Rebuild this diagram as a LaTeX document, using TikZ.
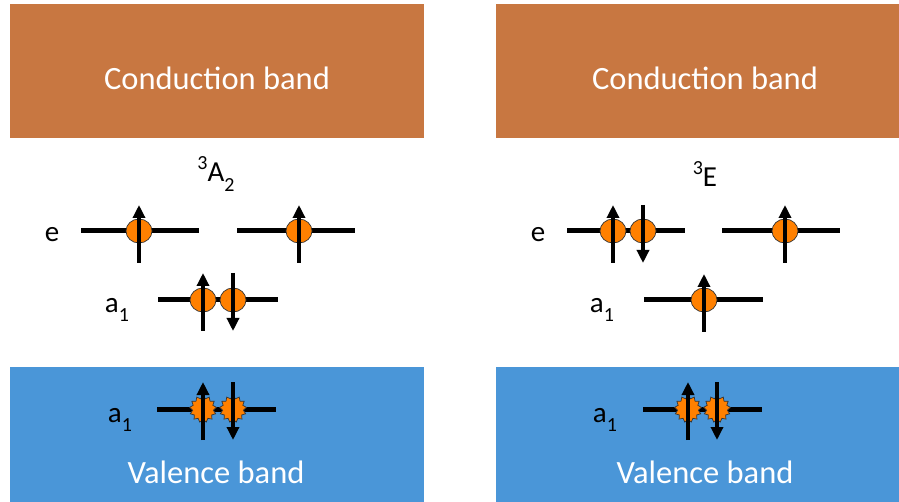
\documentclass[tikz,border=0pt]{standalone}
\usepackage{fontspec}
\setmainfont{Carlito}
\usetikzlibrary{shapes.geometric,shapes.symbols,arrows.meta}

\definecolor{cband}{RGB}{200,119,65}
\definecolor{vband}{RGB}{74,150,216}
\definecolor{elec}{RGB}{255,128,0}

\begin{document}
\begin{tikzpicture}[
    x=1pt, y=-1pt,
    every node/.style={inner sep=0pt}
]

\tikzset{
  band/.style={fill=#1, draw=none},
  bandtext/.style={text=white, font=\fontsize{32.5}{38}\selectfont},
  lbl/.style={font=\fontsize{29}{34}\selectfont},
  level/.style={line width=5pt},
  elecdot/.style={ellipse, fill=elec, draw=black!80, line width=0.7pt, minimum width=26pt, minimum height=24pt},
  hole/.style={starburst, starburst points=13, starburst point height=3pt, random starburst=0, fill=elec, draw=black!80, line width=0.7pt, minimum width=27pt, minimum height=27pt},
  spin/.style={line width=3.5pt, -{Triangle[width=12pt,length=13pt]}}
}

\newcommand{\lo}[1]{\raisebox{-0.32em}{\fontsize{20}{24}\selectfont #1}}
\newcommand{\hi}[1]{\raisebox{0.42em}{\fontsize{20}{24}\selectfont #1}}

\useasboundingbox (0,0) rectangle (899,502);

% ================= left : 3A2 =================

\node[band=cband, minimum width=414pt, minimum height=134pt, anchor=north west] (cbL) at (10,4) {};
\node[bandtext] (cbLt) at (217,78) {Conduction band};
\node[band=vband, minimum width=414pt, minimum height=140pt, anchor=north west] (vbL) at (10,367) {};
\node[bandtext] (vbLt) at (216,472) {Valence band};

\node[lbl] (tA) at (216,174) {\hi{3}A\lo{2}};
\node[lbl] (eL) at (52,235) {e};
\node[lbl] (aL) at (117,310) {a\lo{1}};
\node[lbl] (avL) at (120,420) {a\lo{1}};

\draw[level] (81,231) -- (199,231);
\draw[level] (237,231) -- (355,231);
\draw[level] (158,300) -- (278,300);
\draw[level] (157,409) -- (276,409);

\node[elecdot] (le1) at (139,231) {};
\node[elecdot] (le2) at (299,231) {};
\node[elecdot] (la1) at (203,300) {};
\node[elecdot] (la2) at (233,300) {};
\node[hole]    (lv1) at (203,409) {};
\node[hole]    (lv2) at (233,409) {};

\draw[spin] (le1.center) ++(0,32) -- ++(0,-58);
\draw[spin] (le2.center) ++(0,32) -- ++(0,-58);
\draw[spin] (la1.center) ++(0,31) -- ++(0,-58);
\draw[spin] (la2.center) ++(0,-27) -- ++(0,58);
\draw[spin] (lv1.center) ++(0,31) -- ++(0,-58);
\draw[spin] (lv2.center) ++(0,-27) -- ++(0,58);

% ================= right : 3E =================

\node[band=cband, minimum width=414pt, minimum height=134pt, anchor=north west] (cbR) at (496,4) {};
\node[bandtext] (cbRt) at (705,78) {Conduction band};
\node[band=vband, minimum width=414pt, minimum height=140pt, anchor=north west] (vbR) at (496,367) {};
\node[bandtext] (vbRt) at (705,472) {Valence band};

\node[lbl] (tE) at (705,174) {\hi{3}E};
\node[lbl] (eR) at (538,235) {e};
\node[lbl] (aR) at (602,310) {a\lo{1}};
\node[lbl] (avR) at (605,420) {a\lo{1}};

\draw[level] (567,231) -- (685,231);
\draw[level] (722,231) -- (840,231);
\draw[level] (644,300) -- (763,300);
\draw[level] (643,409) -- (762,409);

\node[elecdot] (re1) at (613,231) {};
\node[elecdot] (re2) at (643,231) {};
\node[elecdot] (re3) at (785,231) {};
\node[elecdot] (ra1) at (704,300) {};
\node[hole]    (rv1) at (688,409) {};
\node[hole]    (rv2) at (717,409) {};

\draw[spin] (re1.center) ++(0,32) -- ++(0,-58);
\draw[spin] (re2.center) ++(0,-26) -- ++(0,58);
\draw[spin] (re3.center) ++(0,32) -- ++(0,-58);
\draw[spin] (ra1.center) ++(0,32) -- ++(0,-58);
\draw[spin] (rv1.center) ++(0,31) -- ++(0,-58);
\draw[spin] (rv2.center) ++(0,-27) -- ++(0,58);

\end{tikzpicture}
\end{document}
